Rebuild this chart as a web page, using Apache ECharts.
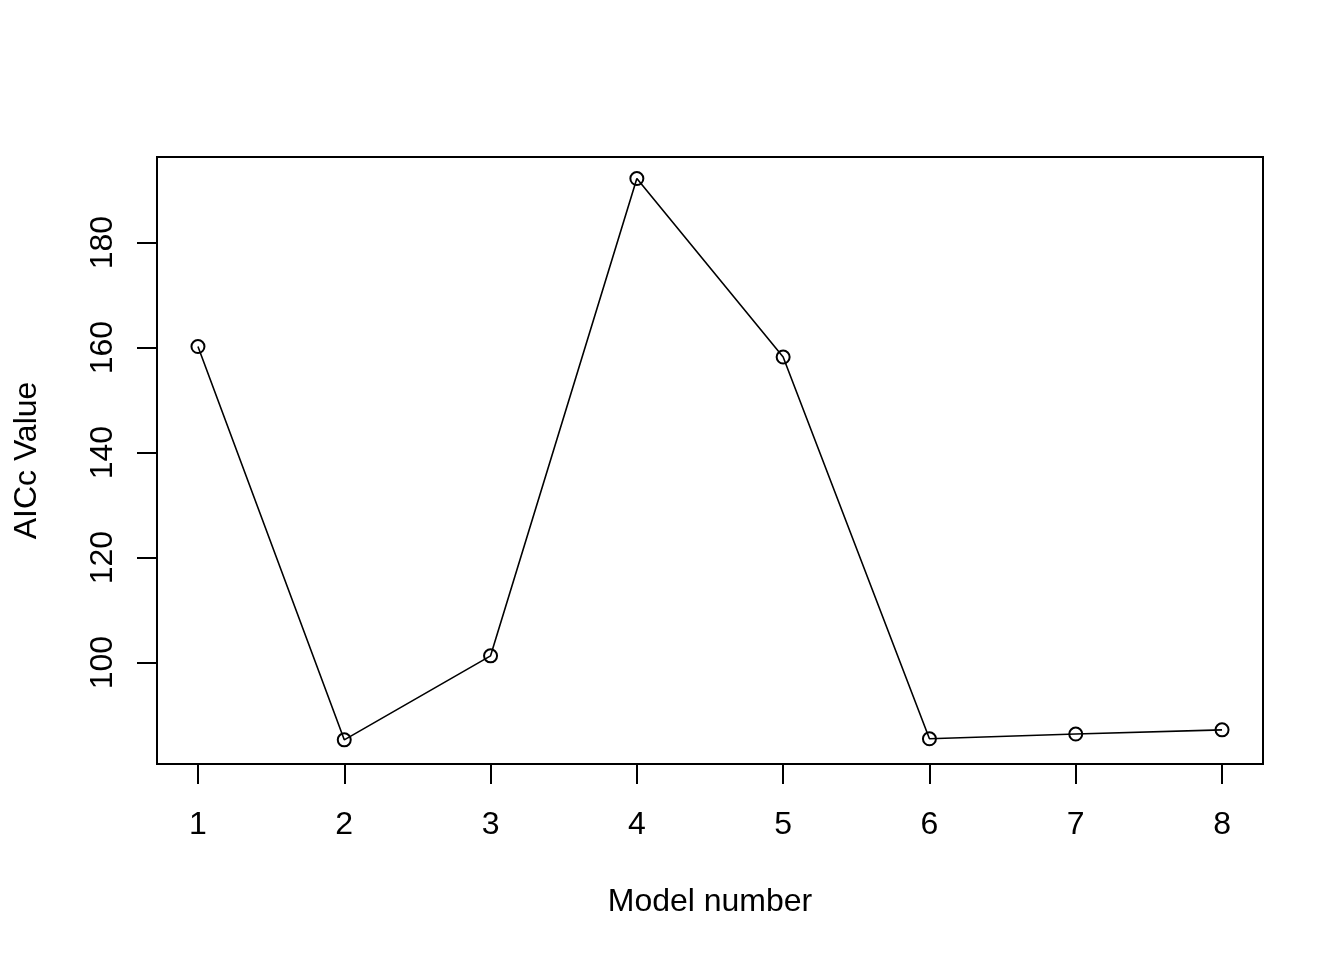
<!DOCTYPE html>
<html>
<head>
<meta charset="utf-8">
<script src="https://cdn.jsdelivr.net/npm/echarts@6/dist/echarts.min.js"></script>
<style>
html,body{margin:0;padding:0;background:#fff;}
#chart{width:1344px;height:960px;}
</style>
</head>
<body>
<div id="chart"></div>
<script>
// AICc per model
const modelNumbers = [1, 2, 3, 4, 5, 6, 7, 8];
const aiccValues = [160.2, 85.3, 101.3, 192.2, 158.2, 85.5, 86.4, 87.2];
const yTicks = [100, 120, 140, 160, 180];

let chart = echarts.init(document.getElementById('chart'));
let font = 'Liberation Sans, Arial, sans-serif';

let option = {
    animation: false,
    backgroundColor: '#fff',
    grid: {
        left: 157,
        right: 81,
        top: 157,
        bottom: 196,
        show: true,
        borderColor: '#000',
        borderWidth: 2,
        backgroundColor: 'transparent'
    },
    xAxis: {
        type: 'value',
        min: 0.72,
        max: 8.28,
        name: 'Model number',
        nameLocation: 'middle',
        nameGap: 122,
        nameTextStyle: {color: '#000', fontSize: 32, fontFamily: font},
        axisLine: {show: false},
        splitLine: {show: false},
        axisTick: {show: true, length: 20, customValues: modelNumbers,
            lineStyle: {color: '#000', width: 2}},
        axisLabel: {customValues: modelNumbers, margin: 45,
            color: '#000', fontSize: 32, fontFamily: font}
    },
    yAxis: {
        type: 'value',
        min: 80.7,
        max: 196.3,
        name: 'AICc Value',
        nameLocation: 'middle',
        nameGap: 114,
        nameTextStyle: {color: '#000', fontSize: 32, fontFamily: font},
        axisLine: {show: false},
        splitLine: {show: false},
        axisTick: {show: true, length: 20, customValues: yTicks,
            lineStyle: {color: '#000', width: 2}},
        axisLabel: {customValues: yTicks, rotate: 90, margin: 38,
            color: '#000', fontSize: 32, fontFamily: font}
    },
    series: [{
        type: 'line',
        data: modelNumbers.map((m, i) => [m, aiccValues[i]]),
        symbol: 'circle',
        symbolSize: 13,
        showAllSymbol: true,
        lineStyle: {color: '#000', width: 1.6},
        itemStyle: {color: 'rgba(0,0,0,0)', borderColor: '#000', borderWidth: 2}
    }]
};
chart.setOption(option, true);
</script>
</body>
</html>
